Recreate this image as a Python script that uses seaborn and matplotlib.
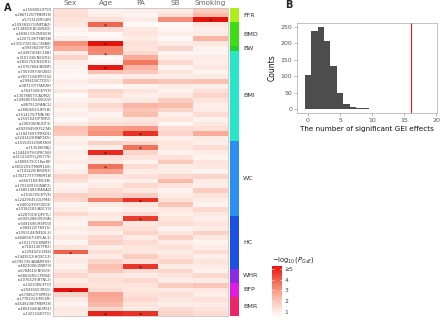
import numpy as np
import pandas as pd
import matplotlib
matplotlib.use("Agg")
import matplotlib.pyplot as plt
import seaborn as sns
from matplotlib.colors import LinearSegmentedColormap, ListedColormap

sns.set_theme(style="white")
plt.rcParams['font.family'] = ['DejaVu Sans']

# ---------------- data ----------------
environments = ["Sex", "Age", "PA", "SB", "Smoking"]

trait_names = ["FFR", "BMD", "BW", "BMI", "WC", "HC", "WHR", "BFP", "BMR"]
trait_sizes = [3, 5, 1, 19, 16, 11, 3, 3, 4]
trait_colors = ["#B0EC1E", "#3DDC14", "#27CF2E", "#28E6C8", "#2B8EF2",
                "#1C50E2", "#8B2BE6", "#E21BE0", "#EF2468"]

snp_labels = [
    "rs1558902(FTO)", "rs2867125(TMEM18)", "rs571312(MC4R)",
    "rs10938397(GNPDA2)", "rs7138803(BCDIN3D)", "rs4836133(ZNF608)",
    "rs2207139(TFAP2B)", "rs13107325(SLC39A8)",
    "rs9939609(FTO)",
    "rs543874(SEC16B)", "rs3101336(NEGR1)", "rs2815752(NEGR1)",
    "rs10767664(BDNF)", "rs7359397(SH2B1)", "rs3817334(MTCH2)",
    "rs29941(KCTD15)", "rs987237(TFAP2B)", "rs7647305(ETV5)",
    "rs13078807(CADM2)", "rs10968576(LINGO2)", "rs887912(FANCL)",
    "rs2890652(LRP1B)", "rs1514175(TNNI3K)", "rs1555543(PTBP2)",
    "rs206936(NUDT3)", "rs4929949(RPL27A)", "rs11847697(PRKD1)",
    "rs2241423(MAP2K5)",
    "rs10150332(NRXN3)", "rs713586(RBJ)", "rs12444979(GPRC5B)",
    "rs2112347(FLJ35779)", "rs1808579(C18orf8)", "rs3810291(TMEM160)",
    "rs7141420(NRXN3)", "rs13021737(TMEM18)", "rs6567160(MC4R)",
    "rs17024393(GNAT2)", "rs16851483(RASA2)", "rs1516725(ETV5)",
    "rs12429545(OLFM4)", "rs9400239(FOXO3)", "rs10182181(ADCY3)",
    "rs2287019(QPCTL)",
    "rs6905288(VEGFA)", "rs9491696(RSPO3)", "rs984222(TBX15)",
    "rs1055144(NFE2L3)", "rs4846567(LYPLAL1)", "rs1011731(DNM3)",
    "rs718314(ITPR2)", "rs1294421(LY86)", "rs1443512(HOXC13)",
    "rs6795735(ADAMTS9)", "rs4823006(ZNRF3)",
    "rs6784615(NISCH)", "rs6861681(CPEB4)", "rs2076529(BTNL2)",
    "rs1421085(FTO)", "rs2943650(IRS1)", "rs6738627(SPRY2)",
    "rs17782313(MC4R)", "rs6548238(TMEM18)", "rs4854344(ALMS1)",
    "rs1421334(FTO)",
]

sex_vals = [1.3, 1.4, 1.2, 1.1, 0.8, 0.6, 0.9, 3.1, 2.6, 1.0,
            1.6, 0.9, 0.8, 0.7, 0.6, 0.9, 0.7, 1.1, 0.6, 0.8,
            1.0, 0.7, 0.9, 0.6, 1.0, 2.1, 1.9, 0.8, 1.0, 0.7,
            0.9, 0.8, 1.0, 0.7, 0.9, 1.6, 1.3, 0.7, 0.9, 1.7,
            1.5, 0.8, 1.0, 1.5, 0.9, 0.7, 1.0, 0.8, 1.1, 0.7,
            1.2, 4.0, 0.9, 1.0, 0.8, 1.2, 1.5, 1.0, 1.3, 5.3,
            1.6, 1.0, 0.8, 1.1, 1.0]
age_vals = [0.8, 0.9, 1.3, 3.9, 1.4, 0.6, 0.7, 5.3, 3.4, 3.3,
            0.6, 0.7, 5.2, 2.1, 0.8, 1.2, 0.6, 1.6, 1.4, 0.9,
            1.5, 1.2, 0.7, 1.0, 1.3, 2.9, 3.1, 0.6, 1.7, 1.0,
            4.9, 1.3, 1.1, 3.7, 2.8, 1.2, 0.8, 1.0, 1.4, 1.6,
            3.5, 1.0, 0.7, 1.2, 1.0, 2.6, 1.2, 0.9, 1.5, 1.7,
            1.0, 1.3, 1.0, 1.6, 2.1, 1.9, 1.1, 1.3, 1.2, 1.4,
            2.7, 2.6, 2.3, 1.5, 5.0]
pa_vals = [0.9, 0.7, 1.0, 0.6, 1.1, 1.2, 1.0, 1.3, 1.2, 1.5,
           2.6, 3.6, 2.4, 1.9, 1.0, 2.2, 0.8, 1.2, 0.9, 1.1,
           2.4, 2.0, 2.2, 1.1, 1.4, 3.0, 4.8, 1.0, 1.5, 3.7,
           1.6, 1.2, 0.8, 1.4, 1.0, 1.3, 0.9, 1.5, 1.1, 1.8,
           4.8, 1.2, 0.9, 1.4, 4.6, 1.1, 1.3, 1.6, 1.0, 1.4,
           1.2, 1.1, 1.8, 1.3, 4.7, 1.4, 1.0, 1.5, 1.2, 1.1,
           1.3, 1.5, 1.2, 1.0, 4.8]
sb_vals = [1.0, 1.3, 3.2, 0.6, 0.7, 0.9, 0.6, 1.0, 1.6, 0.7,
           1.0, 1.5, 0.8, 1.2, 0.9, 2.0, 1.0, 0.8, 1.1, 1.8,
           2.2, 1.6, 0.9, 1.2, 0.7, 1.4, 1.6, 0.9, 1.2, 1.1,
           0.8, 1.3, 1.9, 1.0, 0.9, 1.5, 2.3, 1.2, 0.8, 1.0,
           1.3, 2.0, 1.1, 0.9, 1.2, 1.4, 0.8, 1.1, 1.7, 1.0,
           1.3, 0.9, 1.2, 1.6, 1.0, 1.5, 1.2, 0.9, 1.8, 1.0,
           1.3, 1.1, 0.9, 1.4, 1.6]
smoking_vals = [1.8, 2.3, 5.3, 1.2, 0.9, 1.0, 2.4, 1.1, 0.8, 0.7,
                1.0, 0.9, 1.1, 0.7, 1.0, 2.1, 0.9, 1.3, 1.6, 1.2,
                0.9, 1.0, 1.4, 0.8, 1.1, 1.3, 2.6, 1.0, 0.9, 1.4,
                1.0, 0.8, 1.2, 1.1, 0.7, 1.6, 1.0, 0.9, 1.8, 1.2,
                1.0, 0.8, 1.5, 1.1, 0.9, 1.2, 1.0, 1.7, 1.1, 0.8,
                1.0, 1.4, 0.9, 1.2, 1.0, 0.8, 1.5, 1.0, 2.0, 1.1,
                0.9, 1.3, 1.0, 1.2, 1.4]

sig_sex = [51, 59]
sig_age = [3, 7, 9, 12, 30, 33, 64]
sig_pa = [26, 29, 40, 44, 54, 64]
sig_sb = []
sig_smoking = [2]

hist_x = [0, 1, 2, 3, 4, 5, 6, 7, 8, 9]
hist_counts = [105, 238, 250, 206, 130, 48, 14, 5, 2, 2]
observed_count = 16

# ---------------- figure ----------------
W, H = 440, 322
fig = plt.figure(figsize=(W / 100, H / 100), dpi=100)


def ax_px(x0, y0, x1, y1):
    return fig.add_axes([x0 / W, 1 - y1 / H, (x1 - x0) / W, (y1 - y0) / H])


ax_hm = ax_px(53, 8, 228, 316)
ax_grp = ax_px(230, 8, 239, 316)
ax_cb = ax_px(272, 266, 282, 318)
ax_hist = ax_px(297, 23, 437, 113)

cmap = LinearSegmentedColormap.from_list(
    "reds", [(0.0, "#FFFFFF"), (0.15, "#FDE6DF"), (0.4, "#FAB8A6"),
             (0.65, "#F37A62"), (1.0, "#E3140E")])

df = pd.DataFrame({"Sex": sex_vals, "Age": age_vals, "PA": pa_vals,
                   "SB": sb_vals, "Smoking": smoking_vals},
                  index=snp_labels)[environments]

sns.heatmap(df, ax=ax_hm, cmap=cmap, vmin=0.4, vmax=5.3,
            cbar_ax=ax_cb, xticklabels=True, yticklabels=True)

ax_hm.xaxis.tick_top()
ax_hm.set_xticklabels(environments, fontsize=5.2, color="#666666", rotation=0)
ax_hm.set_yticklabels(snp_labels, fontsize=2.6, color="#444444", rotation=0)
ax_hm.tick_params(axis="both", length=0, pad=1)
ax_hm.tick_params(axis="x", pad=1.5)
ax_hm.set_xlabel("")
ax_hm.set_ylabel("")
for s in ax_hm.spines.values():
    s.set_visible(True)
    s.set_color("#BBBBBB")
    s.set_linewidth(0.5)

sig_lists = [sig_sex, sig_age, sig_pa, sig_sb, sig_smoking]
for j, rows in enumerate(sig_lists):
    for i in rows:
        ax_hm.text(j + 0.5, i + 0.85, "*", ha="center", va="center",
                   fontsize=4.5, color="#111111")

# group colour bar
grp_idx = np.repeat(np.arange(len(trait_names)), trait_sizes).reshape(-1, 1)
sns.heatmap(grp_idx, ax=ax_grp, cmap=ListedColormap(trait_colors),
            vmin=-0.5, vmax=len(trait_names) - 0.5, cbar=False,
            xticklabels=False, yticklabels=False)
starts = np.concatenate([[0], np.cumsum(trait_sizes)[:-1]])
for name, st, sz in zip(trait_names, starts, trait_sizes):
    ax_grp.text(1.45, st + sz / 2, name, ha="left", va="center",
                fontsize=4.6, color="#333333", clip_on=False)
ax_grp.set_xlabel("")
ax_grp.set_ylabel("")

# colour legend
cb = ax_hm.collections[0].colorbar
cb.outline.set_visible(False)
cb.set_ticks([1, 2, 3, 4, 5])
cb.set_ticklabels(["1", "2", "3", "4", "\u22655"])
ax_cb.tick_params(length=0, labelsize=4.3, labelcolor="#444444", pad=2)
for v in [1, 2, 3, 4, 5]:
    ax_cb.axhline(v, xmin=0, xmax=0.2, color="white", lw=0.4)
    ax_cb.axhline(v, xmin=0.8, xmax=1, color="white", lw=0.4)
ax_cb.set_title(r"$-\log_{10}(P_{GxE})$", fontsize=4.8, loc="left",
                pad=3, color="#222222")

# histogram
sns.histplot(x=hist_x, weights=hist_counts, discrete=True, ax=ax_hist,
             color="#4D4D4D", edgecolor="none", linewidth=0, alpha=1)
ax_hist.axvline(observed_count, color="#E41A1C", lw=0.8)
ax_hist.set_xlim(-1.7, 20.1)
ax_hist.set_ylim(-12.5, 262.5)
ax_hist.set_xticks([0, 5, 10, 15, 20])
ax_hist.set_yticks([0, 50, 100, 150, 200, 250])
ax_hist.tick_params(axis="both", labelsize=4.5, labelcolor="#555555",
                    length=2, width=0.4, color="#888888", pad=1.5,
                    bottom=True, left=True)
ax_hist.set_xlabel("The number of significant GEI effects", fontsize=5.2,
                   labelpad=2, color="#111111")
ax_hist.set_ylabel("Counts", fontsize=5.5, labelpad=3, color="#111111")
for s in ax_hist.spines.values():
    s.set_color("#AAAAAA")
    s.set_linewidth(0.5)
ax_hist.grid(False)

fig.text(4 / W, 1 - 8 / H, "A", fontsize=7, fontweight="bold", va="center")
fig.text(285 / W, 1 - 5 / H, "B", fontsize=7, fontweight="bold", va="center")

fig.savefig("out.png", dpi=100)
